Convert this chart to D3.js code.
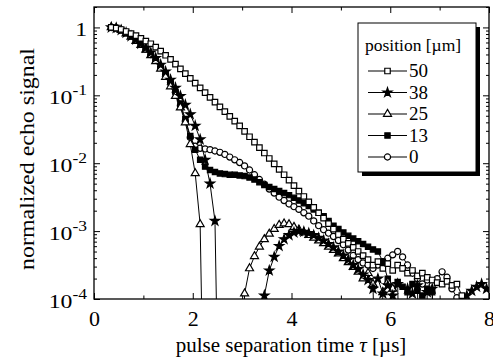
<!DOCTYPE html>
<html>
<head>
<meta charset="utf-8">
<script src="https://cdn.jsdelivr.net/npm/d3@7"></script>
<style>
body { margin: 0; background: #fff; }
</style>
</head>
<body>
<svg id="chart"></svg>
<script>
// pulse separation time grid (µs), one sample every 0.1 µs
const times = d3.range(77).map(i => +(0.35 + 0.1 * i).toFixed(2));

const s50 = [0, -0.01, -0.03, -0.06, -0.09, -0.12, -0.16, -0.20, -0.24, -0.29,
  -0.35, -0.41, -0.47, -0.54, -0.61, -0.68, -0.75, -0.82, -0.89, -0.96,
  -1.03, -1.10, -1.17, -1.24, -1.31, -1.38, -1.45, -1.53, -1.61, -1.69,
  -1.77, -1.85, -1.93, -2.01, -2.09, -2.17, -2.25, -2.33, -2.41, -2.49,
  -2.57, -2.65, -2.73, -2.81, -2.89, -2.97, -3.05, -3.12, -3.18, -3.24,
  -3.30, -3.36, -3.42, -3.50, -3.45, -3.55, -3.48, -3.58, -3.50, -3.55,
  -3.62, -3.58, -3.66, -3.62, -3.68, -3.72, -3.76, -3.78, -3.74, -3.80,
  -3.78, -3.95, -7, null, null, null, null];
const s38 = [0, -0.01, -0.04, -0.08, -0.13, -0.18, -0.24, -0.30, -0.37, -0.45,
  -0.55, -0.65, -0.77, -0.89, -1.01, -1.14, -1.28, -1.45, -1.65, -1.95,
  -2.30, -2.85, -7, null, null, null, null, null, null, null,
  -7, -3.95, -3.58, -3.38, -3.22, -3.12, -3.06, -3.02, -3.00, -3.01,
  -3.03, -3.06, -3.10, -3.14, -3.19, -3.24, -3.30, -3.36, -3.42, -3.50,
  -3.56, -3.64, -3.72, -3.85, -3.70, -3.92, -3.80, -3.95, -3.78, -7,
  -3.85, -3.92, -3.80, -7, -3.90, -3.85, -7, null, null, null,
  null, -7, -3.95, -3.88, -3.82, -3.78, -3.85];
const s25 = [0, -0.01, -0.04, -0.09, -0.14, -0.20, -0.26, -0.33, -0.41, -0.50,
  -0.61, -0.73, -0.87, -1.01, -1.18, -1.40, -1.72, -2.15, -2.90, -7,
  null, null, null, null, null, null, -7, -3.92, -3.55, -3.37,
  -3.23, -3.12, -3.04, -2.97, -2.91, -2.89, -2.90, -2.94, -2.98, -3.02,
  -3.06, -3.10, -3.14, -3.18, -3.23, -3.28, -3.33, -3.40, -3.46, -3.53,
  -3.60, -3.70, -3.62, -3.78, -7, -3.90, -3.75, -3.85, -7, null,
  null, null, null, null, null, null, null, null, null, null,
  null, null, null, null, null, null, null];
const s13 = [0, -0.01, -0.04, -0.08, -0.13, -0.19, -0.25, -0.32, -0.40, -0.48,
  -0.58, -0.69, -0.81, -0.95, -1.12, -1.35, -1.60, -1.80, -1.95, -2.05,
  -2.10, -2.13, -2.15, -2.16, -2.17, -2.17, -2.18, -2.19, -2.21, -2.24,
  -2.28, -2.32, -2.35, -2.38, -2.41, -2.44, -2.47, -2.51, -2.55, -2.59,
  -2.63, -2.68, -2.73, -2.78, -2.85, -2.92, -2.97, -3.02, -3.07, -3.11,
  -3.15, -3.19, -3.23, -3.27, -3.30, -3.45, -3.70, -3.85, -3.75, -3.82,
  -3.90, -3.78, -3.88, -3.95, -3.85, -3.90, -7, null, null, null,
  null, null, null, null, null, null, null];
const s0 = [0, -0.01, -0.04, -0.08, -0.13, -0.19, -0.25, -0.32, -0.40, -0.48,
  -0.58, -0.69, -0.81, -0.95, -1.15, -1.38, -1.62, -1.75, -1.78, -1.79,
  -1.80, -1.82, -1.84, -1.87, -1.91, -1.95, -1.99, -2.04, -2.10, -2.17,
  -2.24, -2.31, -2.38, -2.44, -2.50, -2.55, -2.60, -2.64, -2.68, -2.73,
  -2.78, -2.85, -2.92, -2.98, -3.03, -3.08, -3.14, -3.20, -3.28, -3.36,
  -3.42, -3.47, -3.50, -3.55, -3.50, -3.45, -3.40, -3.35, -3.30, -3.38,
  -3.50, -3.62, -3.70, -3.78, -3.72, -3.80, -3.70, -3.60, -3.68, -3.85,
  -3.98, -7, null, null, null, null, null];

const positions = ['50', '38', '25', '13', '0'];
const xMajor = [0, 2, 4, 6, 8];
const xMinor = [1, 3, 5, 7];
const yExps = [0, -1, -2, -3, -4];

const width = 493, height = 360;
const margin = { top: 7, right: 4, bottom: 61, left: 94 };
const serif = '"Liberation Serif", serif';

const svg = d3.select('#chart').attr('width', width).attr('height', height);

const x = d3.scaleLinear().domain([0, 8]).range([margin.left, width - margin.right]);
const y = d3.scaleLog().domain([1e-4, 2]).range([height - margin.bottom, margin.top]);

const series = [
  { name: '0', vals: s0, sym: d3.symbolCircle, size: 30, fill: '#fff' },
  { name: '13', vals: s13, sym: d3.symbolSquare, size: 28, fill: '#000' },
  { name: '25', vals: s25, sym: d3.symbolTriangle, size: 28, fill: '#fff' },
  { name: '38', vals: s38, sym: d3.symbolStar, size: 26, fill: '#000' },
  { name: '50', vals: s50, sym: d3.symbolSquare, size: 30, fill: '#fff' }
];

svg.append('clipPath').attr('id', 'plotclip')
  .append('rect')
  .attr('x', x(0)).attr('y', y(2))
  .attr('width', x(8) - x(0)).attr('height', y(1e-4) - y(2));

const plot = svg.append('g').attr('clip-path', 'url(#plotclip)');

const line = d3.line()
  .defined(d => d.v != null)
  .x(d => x(d.t))
  .y(d => y(Math.pow(10, d.v)));

series.forEach(s => {
  const pts = times.map((t, i) => ({ t: t, v: s.vals[i] }));
  plot.append('path')
    .datum(pts)
    .attr('fill', 'none')
    .attr('stroke', '#000')
    .attr('stroke-width', 1)
    .attr('d', line);
  plot.selectAll(null)
    .data(pts.filter(d => d.v != null && d.v >= -4.02))
    .join('path')
    .attr('transform', d => `translate(${x(d.t)},${y(Math.pow(10, d.v))})`)
    .attr('d', d3.symbol(s.sym, s.size))
    .attr('fill', s.fill)
    .attr('stroke', '#000')
    .attr('stroke-width', 1.2);
});

// axes
const yMinor = [];
yExps.forEach(e => {
  for (let m = 2; m <= 9; m++) {
    const v = m * Math.pow(10, e);
    if (v <= 2) yMinor.push(v);
  }
});

function clean(g) {
  g.select('.domain').remove();
  g.selectAll('.tick line').attr('stroke', '#000').attr('stroke-width', 1);
}

svg.append('g')
  .attr('transform', `translate(0,${y(1e-4)})`)
  .call(d3.axisBottom(x).tickValues(xMajor).tickSizeInner(-6).tickSizeOuter(0).tickPadding(11).tickFormat(d3.format('d')))
  .call(clean)
  .call(g => g.selectAll('.tick text')
    .style('font-family', serif).style('font-size', '22px').attr('fill', '#000'));
svg.append('g')
  .attr('transform', `translate(0,${y(1e-4)})`)
  .call(d3.axisBottom(x).tickValues(xMinor).tickSizeInner(-3.5).tickSizeOuter(0).tickFormat(''))
  .call(clean);
svg.append('g')
  .attr('transform', `translate(0,${y(2)})`)
  .call(d3.axisTop(x).tickValues(xMajor).tickSizeInner(-6).tickSizeOuter(0).tickFormat(''))
  .call(clean);
svg.append('g')
  .attr('transform', `translate(0,${y(2)})`)
  .call(d3.axisTop(x).tickValues(xMinor).tickSizeInner(-3.5).tickSizeOuter(0).tickFormat(''))
  .call(clean);

const yMajorVals = yExps.map(e => Math.pow(10, e));
[[x(0), d3.axisLeft], [x(8), d3.axisRight]].forEach(([px, ax]) => {
  svg.append('g')
    .attr('transform', `translate(${px},0)`)
    .call(ax(y).tickValues(yMajorVals).tickSizeInner(-6).tickSizeOuter(0).tickFormat(''))
    .call(clean);
  svg.append('g')
    .attr('transform', `translate(${px},0)`)
    .call(ax(y).tickValues(yMinor).tickSizeInner(-3).tickSizeOuter(0).tickFormat(''))
    .call(clean);
});

// y tick labels with superscripts
yExps.forEach(e => {
  const g = svg.append('g')
    .attr('transform', `translate(${x(0) - 7},${y(Math.pow(10, e)) + 9}) scale(1.25,1)`);
  const t = g.append('text').attr('text-anchor', 'end')
    .style('font-family', serif).style('font-size', '19px');
  if (e === 0) {
    t.text('1');
  } else {
    t.append('tspan').text('10');
    t.append('tspan').attr('dy', -9).style('font-size', '14px').text('-' + Math.abs(e));
  }
});

// frame
svg.append('rect')
  .attr('x', x(0)).attr('y', y(2))
  .attr('width', x(8) - x(0)).attr('height', y(1e-4) - y(2))
  .attr('fill', 'none').attr('stroke', '#000').attr('stroke-width', 1.3);

// axis titles
const xt = svg.append('text')
  .attr('x', 291).attr('y', 352)
  .attr('text-anchor', 'middle')
  .style('font-family', serif).style('font-size', '21px');
xt.append('tspan').text('pulse separation time ');
xt.append('tspan').style('font-style', 'italic').text('τ');
xt.append('tspan').text('  [µs]');

svg.append('text')
  .attr('transform', `translate(34,159) rotate(-90)`)
  .attr('text-anchor', 'middle')
  .style('font-family', serif).style('font-size', '22px')
  .attr('textLength', 222)
  .attr('lengthAdjust', 'spacingAndGlyphs')
  .text('normalized echo signal');

// legend
const lg = svg.append('g').attr('transform', 'translate(358,23)');
lg.append('rect').attr('x', 4).attr('y', 4).attr('width', 118).attr('height', 149).attr('fill', '#000');
lg.append('rect').attr('width', 118).attr('height', 149).attr('fill', '#fff').attr('stroke', '#000').attr('stroke-width', 1);
lg.append('text').attr('x', 7).attr('y', 28)
  .style('font-family', serif).style('font-size', '17.5px').text('position [µm]');

const legendRows = positions.map(p => series.find(s => s.name === p));
legendRows.forEach((s, i) => {
  const ry = 48 + i * 21.5;
  lg.append('line').attr('x1', 10).attr('x2', 49).attr('y1', ry).attr('y2', ry)
    .attr('stroke', '#000').attr('stroke-width', 1.2);
  lg.append('path')
    .attr('transform', `translate(29.5,${ry})`)
    .attr('d', d3.symbol(s.sym, s.size))
    .attr('fill', s.fill).attr('stroke', '#000').attr('stroke-width', 1.2);
  lg.append('text').attr('x', 51).attr('y', ry + 6)
    .style('font-family', serif).style('font-size', '19px').text(s.name);
});
</script>
</body>
</html>
